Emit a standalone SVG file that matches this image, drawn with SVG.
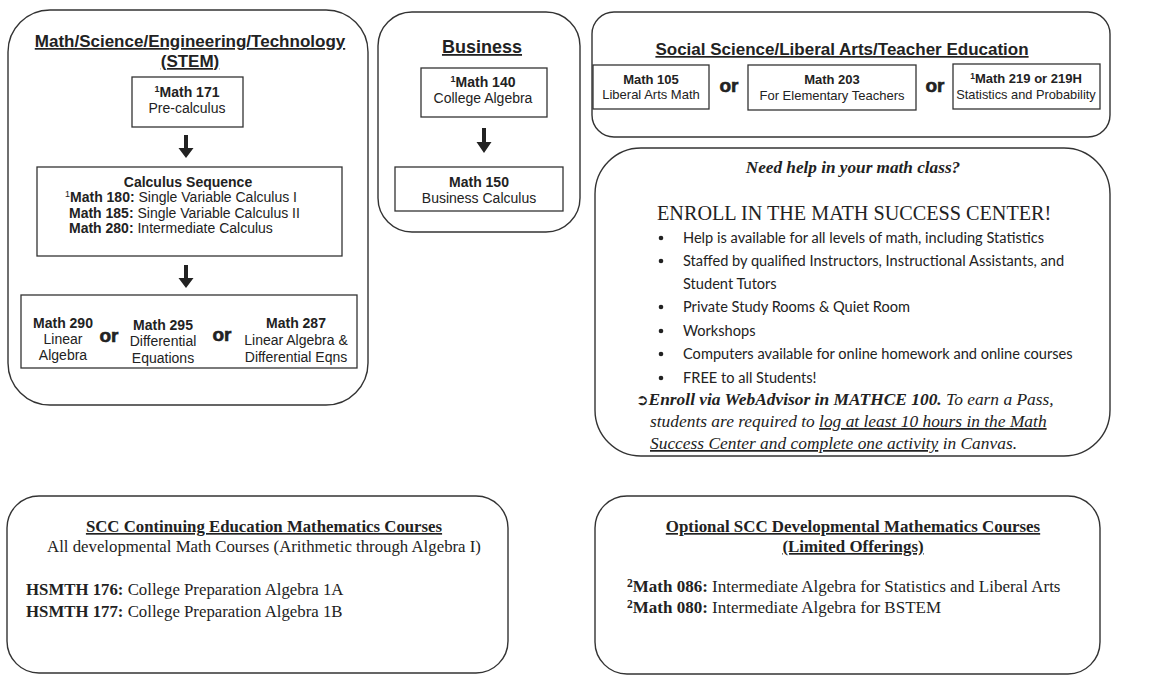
<svg xmlns="http://www.w3.org/2000/svg" width="1157" height="677" viewBox="0 0 1157 677">
<defs>
<style>
.panel{fill:#fff;stroke:#333;stroke-width:1.4}
.box{fill:#fff;stroke:#333;stroke-width:1.3}
.a{font-family:"Liberation Sans",Arial,sans-serif;fill:#222}
.ab{font-family:"Liberation Sans",Arial,sans-serif;font-weight:bold;fill:#222}
.t{font-family:"Liberation Serif","Times New Roman",serif;fill:#222}
.tb{font-family:"Liberation Serif","Times New Roman",serif;font-weight:bold;fill:#222}
.c{font-family:Lato,"Noto Sans",sans-serif;fill:#222;font-size:14.6px}
.or{font-family:"Liberation Sans",Arial,sans-serif;font-weight:900;font-size:19px;fill:#222;stroke:#222;stroke-width:0.6}
.u{text-decoration:underline}
.mid{text-anchor:middle}
</style>
</defs>
<rect width="1157" height="677" fill="#fff"/>

<g id="stem">
<rect class="panel" x="8" y="10" width="360" height="395" rx="42"/>
<text class="ab u mid" x="190" y="47" font-size="17">Math/Science/Engineering/Technology</text>
<text class="ab u mid" x="190" y="67" font-size="17">(STEM)</text>
</g>
<g id="math171">
<rect class="box" x="132" y="77" width="111" height="50"/>
<text class="ab mid" x="187" y="97" font-size="14"><tspan font-size="9" dy="-5">1</tspan><tspan dy="5">Math 171</tspan></text>
<text class="a mid" x="187" y="113" font-size="14">Pre-calculus</text>
</g>
<g id="calculus">
<rect class="box" x="37" y="167" width="305" height="89"/>
<text class="ab mid" x="188" y="187" font-size="14">Calculus Sequence</text>
<text class="a" x="65" y="202" font-size="14"><tspan font-size="9" dy="-5">1</tspan><tspan font-weight="bold" dy="5">Math 180:</tspan> Single Variable Calculus I</text>
<text class="a" x="69" y="218" font-size="14"><tspan font-weight="bold">Math 185:</tspan> Single Variable Calculus II</text>
<text class="a" x="69" y="233" font-size="14"><tspan font-weight="bold">Math 280:</tspan> Intermediate Calculus</text>
</g>
<g id="stem-options">
<rect class="box" x="21" y="295" width="336" height="73"/>
<text class="ab mid" x="63" y="328" font-size="14">Math 290</text>
<text class="a mid" x="63" y="344" font-size="14">Linear</text>
<text class="a mid" x="63" y="360" font-size="14">Algebra</text>
<text class="or mid" x="109" y="342">or</text>
<text class="ab mid" x="163" y="330" font-size="14">Math 295</text>
<text class="a mid" x="163" y="346" font-size="14">Differential</text>
<text class="a mid" x="163" y="363" font-size="14">Equations</text>
<text class="or mid" x="222" y="341">or</text>
<text class="ab mid" x="296" y="328" font-size="14">Math 287</text>
<text class="a mid" x="296" y="345" font-size="14">Linear Algebra &amp;</text>
<text class="a mid" x="296" y="362" font-size="14">Differential Eqns</text>
</g>

<g id="business">
<rect class="panel" x="378" y="12" width="202" height="220" rx="34"/>
<text class="ab u mid" x="482" y="53" font-size="18">Business</text>
</g>
<g id="math140">
<rect class="box" x="421" y="68" width="126" height="49"/>
<text class="ab mid" x="483" y="87" font-size="14"><tspan font-size="9" dy="-5">1</tspan><tspan dy="5">Math 140</tspan></text>
<text class="a mid" x="483" y="103" font-size="14">College Algebra</text>
</g>
<g id="math150">
<rect class="box" x="395" y="167" width="168" height="44"/>
<text class="ab mid" x="479" y="187" font-size="14">Math 150</text>
<text class="a mid" x="479" y="203" font-size="14">Business Calculus</text>
</g>

<g id="social">
<rect class="panel" x="592" y="12" width="518" height="125" rx="22"/>
<text class="ab u mid" x="842" y="55" font-size="17">Social Science/Liberal Arts/Teacher Education</text>
<text class="or mid" x="729" y="92">or</text>
<text class="or mid" x="935" y="92">or</text>
</g>
<g id="math105">
<rect class="box" x="593" y="65" width="116" height="44"/>
<text class="ab mid" x="651" y="84" font-size="13">Math 105</text>
<text class="a mid" x="651" y="99" font-size="13">Liberal Arts Math</text>
</g>
<g id="math203">
<rect class="box" x="748" y="65" width="168" height="45"/>
<text class="ab mid" x="832" y="84" font-size="13">Math 203</text>
<text class="a mid" x="832" y="100" font-size="13">For Elementary Teachers</text>
</g>
<g id="math219">
<rect class="box" x="953" y="64" width="147" height="45"/>
<text class="ab mid" x="1026" y="83" font-size="13"><tspan font-size="8.5" dy="-4">1</tspan><tspan dy="4">Math 219 or 219H</tspan></text>
<text class="a mid" x="1026" y="99" font-size="12.8">Statistics and Probability</text>
</g>

<g id="help">
<rect class="panel" x="595" y="148" width="515" height="308" rx="46"/>
<text class="tb mid" x="853" y="173" font-size="17.2" font-style="italic">Need help in your math class?</text>
<text class="t" x="657" y="220" font-size="20.2">ENROLL IN THE MATH SUCCESS CENTER!</text>
<g class="c">
<circle cx="661" cy="238" r="2.3" fill="#222"/>
<text x="683" y="243">Help is available for all levels of math, including Statistics</text>
<circle cx="661" cy="261" r="2.3" fill="#222"/>
<text x="683" y="266">Staffed by qualified Instructors, Instructional Assistants, and</text>
<text x="683" y="289">Student Tutors</text>
<circle cx="661" cy="307" r="2.3" fill="#222"/>
<text x="683" y="312">Private Study Rooms &amp; Quiet Room</text>
<circle cx="661" cy="331" r="2.3" fill="#222"/>
<text x="683" y="336">Workshops</text>
<circle cx="661" cy="354" r="2.3" fill="#222"/>
<text x="683" y="359">Computers available for online homework and online courses</text>
<circle cx="661" cy="378" r="2.3" fill="#222"/>
<text x="683" y="383">FREE to all Students!</text>
</g>
<text class="t" x="636" y="405" font-size="17.4" font-style="italic"><tspan font-family="DejaVu Sans" font-style="normal" font-weight="bold" font-size="15">➲</tspan><tspan font-weight="bold">Enroll via WebAdvisor in MATHCE 100.</tspan>  To earn a Pass,</text>
<text class="t" x="650" y="427" font-size="17.4" font-style="italic">students are required to <tspan class="u">log at least 10 hours in the Math</tspan></text>
<text class="t" x="650" y="449" font-size="17.4" font-style="italic"><tspan class="u">Success Center and complete one activity</tspan> in Canvas.</text>
</g>

<g id="continuing">
<rect class="panel" x="7" y="496" width="501" height="177" rx="32"/>
<text class="tb u mid" x="264" y="532" font-size="16.8">SCC Continuing Education Mathematics Courses</text>
<text class="t mid" x="264" y="552" font-size="16.8">All developmental Math Courses (Arithmetic through Algebra I)</text>
<text class="t" x="26" y="595" font-size="16.8"><tspan font-weight="bold">HSMTH 176:</tspan> College Preparation Algebra 1A</text>
<text class="t" x="26" y="617" font-size="16.8"><tspan font-weight="bold">HSMTH 177:</tspan> College Preparation Algebra 1B</text>
</g>

<g id="developmental">
<rect class="panel" x="595" y="496" width="505" height="178" rx="32"/>
<text class="tb u mid" x="853" y="532" font-size="16.9">Optional SCC Developmental Mathematics Courses</text>
<text class="tb u mid" x="853" y="552" font-size="16.9">(Limited Offerings)</text>
<text class="t" x="627" y="592" font-size="17"><tspan font-weight="bold" font-size="11.5" dy="-5">2</tspan><tspan font-weight="bold" dy="5">Math 086:</tspan> Intermediate Algebra for Statistics and Liberal Arts</text>
<text class="t" x="627" y="613" font-size="17"><tspan font-weight="bold" font-size="11.5" dy="-5">2</tspan><tspan font-weight="bold" dy="5">Math 080:</tspan> Intermediate Algebra for BSTEM</text>
</g>

<g id="connectors" fill="#222">
<path d="M184 135 h4 v13 h5.5 l-7.5 10 l-7.5 -10 h5.5 z"/>
<path d="M184 265 h4 v13 h5.5 l-7.5 10 l-7.5 -10 h5.5 z"/>
<path d="M482 128 h4 v14 h5.5 l-7.5 11 l-7.5 -11 h5.5 z"/>
</g>
</svg>
